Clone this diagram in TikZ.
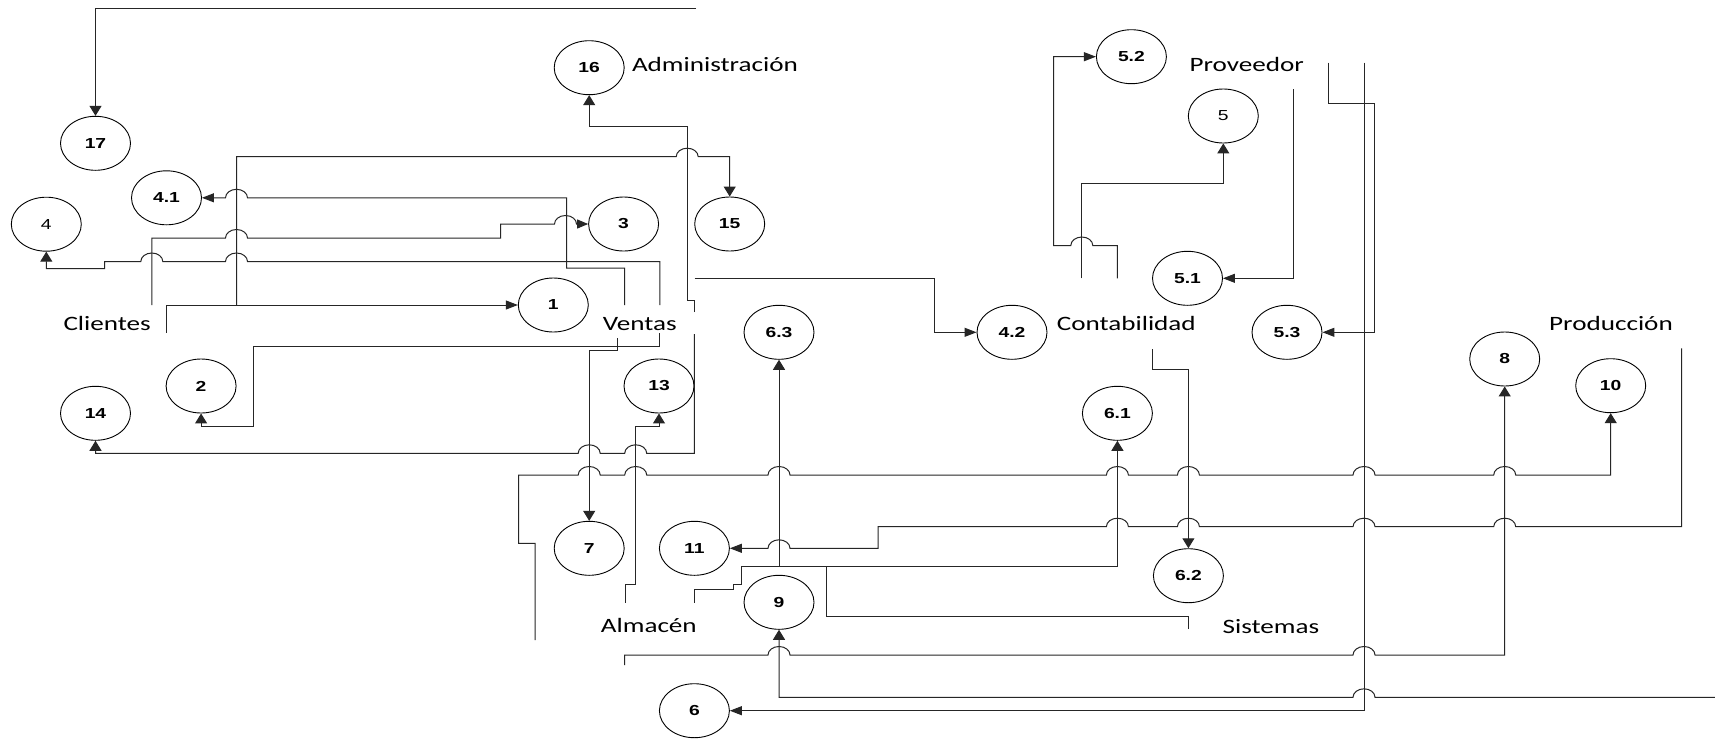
\documentclass[tikz,border=0pt]{standalone}
\usepackage{fontspec}
\usepackage{graphicx}
\setmainfont{Carlito}
\newfontfamily\numfont{Liberation Sans}
\usetikzlibrary{shapes.geometric,arrows.meta}

% labels are set slightly widened
\newcommand\hstretch[1]{\scalebox{1.33}[1]{#1}}
\newcommand\cnum[1]{\hstretch{\numfont\bfseries #1}}
\newcommand\cnumr[1]{\hstretch{\numfont #1}}

\tikzset{
  wire/.style={draw=black!85, line width=1pt},
  ah/.style={-{Triangle[length=12pt,width=9pt]}},
  av/.style={-{Triangle[length=10pt,width=12pt]}},
  ell/.style={draw, line width=0.9pt, ellipse, minimum width=70pt, minimum height=54pt,
              inner sep=0pt, font=\fontsize{14.5}{16}\selectfont},
  area/.style={inner sep=0pt, anchor=base west, font=\fontsize{20.4}{24}\selectfont},
  % line jumps over a crossing vertical wire
  hr/.style 2 args={insert path={-- ({#1-11},#2) arc[start angle=180,end angle=360,x radius=11,y radius=8.5]}},
  hl/.style 2 args={insert path={-- ({#1+11},#2) arc[start angle=0,end angle=-180,x radius=11,y radius=8.5]}},
}

\begin{document}
\begin{tikzpicture}[x=1pt,y=-1pt]
\useasboundingbox (0,0) rectangle (1715,739);
\fill[white] (0,0) rectangle (1715,739);

% process circles
\node[ell] (n17) at (95.5,143.3) {\cnum{17}};
\node[ell] (n16) at (589.2,67.7) {\cnum{16}};
\node[ell] (n41) at (166.5,197.8) {\cnum{4.1}};
\node[ell] (n4)  at (46.3,224.2) {\cnumr{4}};
\node[ell] (n3)  at (623.6,224) {\cnum{3}};
\node[ell] (n15) at (729.7,224) {\cnum{15}};
\node[ell] (n1)  at (553.3,305) {\cnum{1}};
\node[ell] (n52) at (1131.4,56.7) {\cnum{5.2}};
\node[ell] (n5)  at (1223.3,116) {\cnumr{5}};
\node[ell] (n51) at (1187.5,278.3) {\cnum{5.1}};
\node[ell] (n53) at (1287,332.3) {\cnum{5.3}};
\node[ell] (n42) at (1012,332.3) {\cnum{4.2}};
\node[ell] (n63) at (779,332.3) {\cnum{6.3}};
\node[ell] (n8)  at (1504.7,359) {\cnum{8}};
\node[ell] (n10) at (1610.7,385.7) {\cnum{10}};
\node[ell] (n2)  at (201.1,386) {\cnum{2}};
\node[ell] (n13) at (659,386) {\cnum{13}};
\node[ell] (n14) at (95.5,413.3) {\cnum{14}};
\node[ell] (n61) at (1117.4,413.3) {\cnum{6.1}};
\node[ell] (n7)  at (589.2,548.3) {\cnum{7}};
\node[ell] (n11) at (694.4,548.3) {\cnum{11}};
\node[ell] (n62) at (1188.4,575.7) {\cnum{6.2}};
\node[ell] (n9)  at (779,602.3) {\cnum{9}};
\node[ell] (n6)  at (694.4,710.7) {\cnum{6}};

% department names
\node[area] (tcli) at (63.3,330.7)  {\hstretch{Clientes}};
\node[area] (tven) at (602.7,330.7) {\hstretch{Ventas}};
\node[area] (tadm) at (631.8,71)    {\hstretch{Administración}};
\node[area] (tpro) at (1189.4,71.5) {\hstretch{Proveedor}};
\node[area] (tcon) at (1056.6,330.7){\hstretch{Contabilidad}};
\node[area] (tprd) at (1549,330.7)  {\hstretch{Producción}};
\node[area] (talm) at (600.7,632.5) {\hstretch{Almacén}};
\node[area] (tsis) at (1222.4,633)  {\hstretch{Sistemas}};

% flows
\draw[wire,av] (696,8.5) -- (95.5,8.5) -- (n17.north);

\draw[wire,av] (694.3,312) -- (694.3,300) -- (687.2,300) -- (687.2,126.7) -- (589.2,126.7) -- (n16.south);
\draw[wire,av] (694.3,334) -- (694.3,453.3) [hl={635.7}{453.3}] [hl={589.2}{453.3}] -- (95.5,453.3) -- (n14.south);

\draw[wire,ah] (166,332.7) -- (166,305) -- (n1.west);
\draw[wire,av] (236.5,305) -- (236.5,156.7) [hr={687.2}{156.7}] -- (729.7,156.7) -- (n15.north);

\draw[wire,ah] (624.7,305) -- (624.7,268) -- (566.5,268) -- (566.5,197.8) [hl={236.5}{197.8}] -- (n41.east);

\draw[wire,-{Triangle[length=11pt,width=9pt]}] (151.8,305) -- (151.8,238) [hr={236.5}{238}] -- (500.5,238) -- (500.5,224) [hr={565.5}{224}] -- (n3.west);

\draw[wire,av] (659.9,305) -- (659.9,261.5) [hl={236.5}{261.5}] [hl={151.8}{261.5}] -- (104.7,261.5) -- (104.7,268.5) -- (46.3,268.5) -- (n4.south);

\draw[wire,av] (659.9,333) -- (659.9,346) -- (253.9,346) -- (253.9,426.7) -- (201.1,426.7) -- (n2.south);

\draw[wire,av] (617.7,338.3) -- (617.7,350.5) -- (589.2,350.5) -- (n7.north);

\draw[wire,av] (625,602.7) -- (625,584.5) -- (635.7,584.5) -- (635.7,426.7) -- (659,426.7) -- (n13.south);

\draw[wire,av] (535,640) -- (535,543.3) -- (518.6,543.3) -- (518.6,475)
  [hr={589.2}{475}] [hr={635.7}{475}] [hr={779}{475}] [hr={1117.4}{475}]
  [hr={1188.4}{475}] [hr={1364}{475}] [hr={1504.7}{475}] -- (1610.7,475) -- (n10.south);

\draw[wire,ah] (1681.6,348.3) -- (1681.6,526.7)
  [hl={1504.7}{526.7}] [hl={1364}{526.7}] [hl={1188.4}{526.7}] [hl={1117.4}{526.7}]
  -- (878.1,526.7) -- (878.1,548.3) [hl={779}{548.3}] -- (n11.east);

\draw[wire,av] (694.4,602.7) -- (694.4,589.5) -- (733,589.5) -- (733,584) -- (741.7,584)
  -- (741.7,566.5) -- (1117.4,566.5) -- (n61.south);
\draw[wire,av] (779,566.5) -- (n63.south);
\draw[wire] (1188.4,629) -- (1188.4,616.3) -- (826,616.3) -- (826,566.5);

\draw[wire,av] (624.6,665) -- (624.6,655) [hr={779}{655}] [hr={1364}{655}] -- (1504.7,655) -- (n8.south);

\draw[wire,av] (1715,697.3) [hl={1364}{697.3}] -- (779,697.3) -- (n9.south);

\draw[wire,ah] (1364,62.5) -- (1364,710.7) -- (n6.east);

\draw[wire,ah] (1328.5,62.5) -- (1328.5,103) -- (1374.5,103) -- (1374.5,332.3) -- (n53.east);

\draw[wire,ah] (1293.4,89.3) -- (1293.4,278.3) -- (n51.east);

\draw[wire,av] (1081.8,278.3) -- (1081.8,183.3) -- (1223.3,183.3) -- (n5.south);

\draw[wire,ah] (1117.3,278.3) -- (1117.3,245.5) [hl={1081.8}{245.5}] -- (1053.5,245.5) -- (1053.5,56.7) -- (n52.west);

\draw[wire,ah] (694.5,278.3) -- (934,278.3) -- (934,332.3) -- (n42.west);

\draw[wire,av] (1152.7,349.3) -- (1152.7,369.3) -- (1188.4,369.3) -- (n62.north);
\end{tikzpicture}
\end{document}
